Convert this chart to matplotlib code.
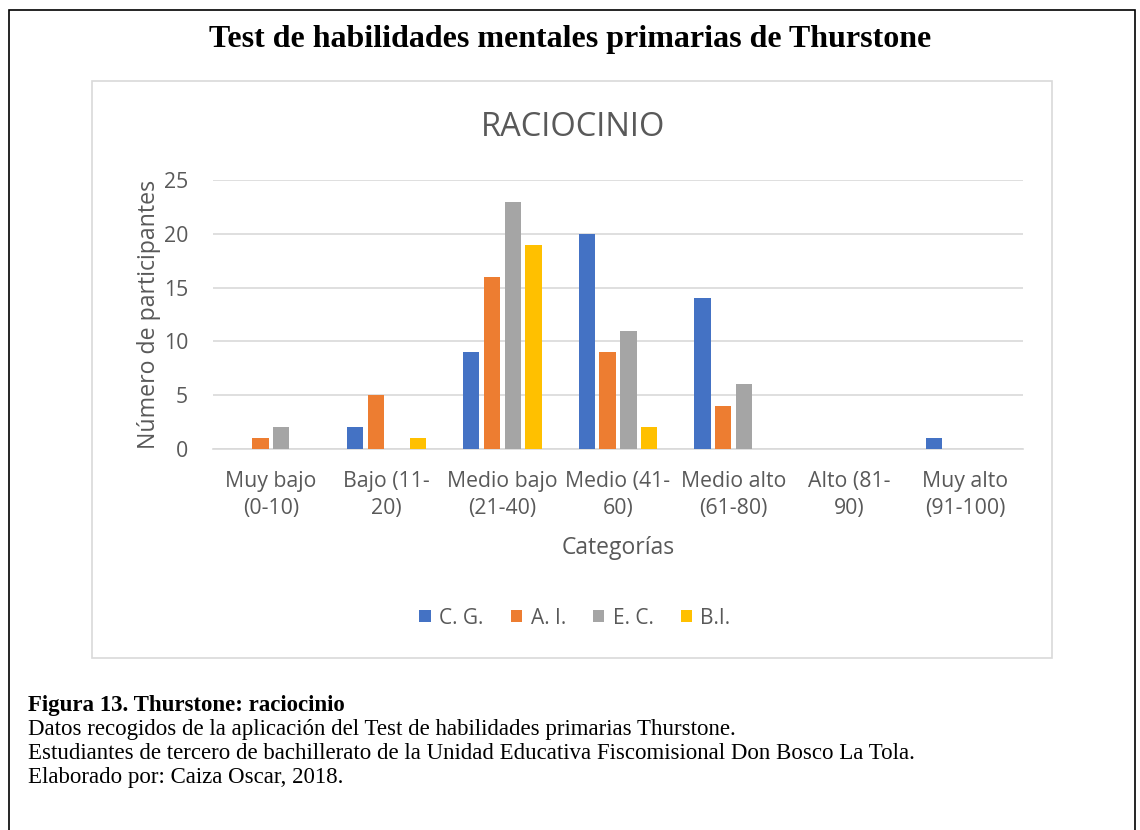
import numpy as np
import matplotlib
matplotlib.use("Agg")
import matplotlib.pyplot as plt
from matplotlib.patches import Rectangle

# Datos del gráfico
categorias = ["Muy bajo\n(0-10)", "Bajo (11-\n20)", "Medio bajo\n(21-40)", "Medio (41-\n60)",
              "Medio alto\n(61-80)", "Alto (81-\n90)", "Muy alto\n(91-100)"]
series = ["C. G.", "A. I.", "E. C.", "B.I."]
cg = [0, 2, 9, 20, 14, 0, 1]
ai = [1, 5, 16, 9, 4, 0, 0]
ec = [2, 0, 23, 11, 6, 0, 0]
bi = [0, 1, 19, 2, 0, 0, 0]
colores = ["#4472C4", "#ED7D31", "#A5A5A5", "#FFC000"]

gris = "#595959"
sans = "Open Sans"
serif = "Liberation Serif"

fig = plt.figure(figsize=(11.4, 8.3), dpi=100)
W, H = 1140, 830

def fx(px):
    return px / W

def fy(py):
    return 1 - py / H

# marco exterior
fig.patches.append(Rectangle((fx(9), fy(835)), fx(1135 - 9), fy(10) - fy(835),
                             transform=fig.transFigure, fill=False, edgecolor="black", lw=1.2))
# marco del gráfico
fig.patches.append(Rectangle((fx(92), fy(658)), fx(1052 - 92), fy(81) - fy(658),
                             transform=fig.transFigure, fill=False, edgecolor="#D9D9D9", lw=1.2))

fig.text(0.5, fy(40), "Test de habilidades mentales primarias de Thurstone", ha="center", va="center",
         family=serif, fontweight="bold", fontsize=23)

ax = fig.add_axes([fx(213), fy(449), fx(1023 - 213), fy(180) - fy(449)])

x = np.arange(len(categorias))
ancho = 0.14
paso = 0.18
for i, (vals, nombre) in enumerate(zip([cg, ai, ec, bi], series)):
    ax.bar(x + (i - 1.5) * paso, vals, width=ancho, color=colores[i], label=nombre, zorder=3)

ax.set_xlim(-0.5, len(categorias) - 0.5)
ax.set_ylim(0, 25)
ax.set_yticks([0, 5, 10, 15, 20, 25])
ax.set_xticks(x)
ax.set_xticklabels(categorias, family=sans, fontsize=15.3, color=gris, linespacing=1.38)
ax.tick_params(axis="y", labelsize=15.3, labelcolor=gris, length=0, pad=18)
ax.tick_params(axis="x", length=0, pad=16)
for t in ax.get_yticklabels():
    t.set_family(sans)
ax.grid(axis="y", color="#D9D9D9", lw=1.2, zorder=0)
for s in ["top", "right", "left"]:
    ax.spines[s].set_visible(False)
ax.spines["bottom"].set_color("#D9D9D9")
ax.spines["bottom"].set_linewidth(1.2)

ax.set_ylabel("Número de participantes", family=sans, fontsize=16.7, color=gris, labelpad=2)
ax.set_xlabel("Categorías", family=sans, fontsize=16.5, color=gris, labelpad=12)

fig.text(fx(573), fy(128), "RACIOCINIO", ha="center", va="center", family=sans, fontsize=23.5, color=gris)

ax.legend(loc="center", bbox_to_anchor=(fx(575), fy(618)), bbox_transform=fig.transFigure, ncol=4,
          frameon=False, prop={"family": sans, "size": 15}, handlelength=0.55, handleheight=0.55,
          handletextpad=0.4, columnspacing=1.3, labelcolor=gris)

# pie de figura
fig.text(fx(28), fy(705), "Figura 13. Thurstone: raciocinio", family=serif,
         fontweight="bold", fontsize=16.5, va="center")
lineas = ["Datos recogidos de la aplicación del Test de habilidades primarias Thurstone.",
          "Estudiantes de tercero de bachillerato de la Unidad Educativa Fiscomisional Don Bosco La Tola.",
          "Elaborado por: Caiza Oscar, 2018."]
for k, linea in enumerate(lineas):
    fig.text(fx(28), fy(729 + 24 * k), linea, family=serif, fontsize=16.5, va="center")

fig.savefig("out.png", dpi=100)
